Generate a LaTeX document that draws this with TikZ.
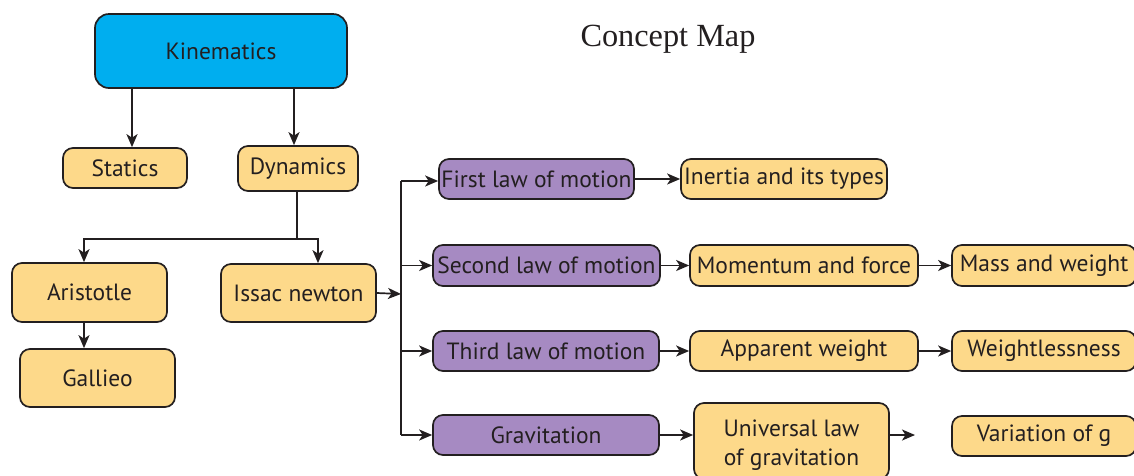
\documentclass[tikz,border=0pt]{standalone}
\usepackage{fontspec}
\setmainfont{PT Sans}
\newfontfamily\titlefont{Liberation Serif}
\usetikzlibrary{arrows.meta}
\definecolor{linec}{HTML}{231F20}
\definecolor{yel}{HTML}{FDD98A}
\definecolor{pur}{HTML}{A68AC2}
\definecolor{cyanbox}{HTML}{00AEEF}
\begin{document}
\begin{tikzpicture}[x=1pt,y=-1pt,
  box/.style={draw=linec, line width=1.7pt, rounded corners=10pt, inner sep=0pt,
    align=center, text=linec, font=\fontsize{23.5}{29}\selectfont},
  ybox/.style={box, fill=yel},
  pbox/.style={box, fill=pur},
  arr/.style={-{Stealth[length=13pt,width=11pt,inset=3.5pt]}, line width=1.7pt, draw=linec},
  ln/.style={line width=1.7pt, draw=linec}]
\useasboundingbox (0,0) rectangle (1134,475);
\fill[white] (0,0) rectangle (1134,475);

\node[font=\titlefont\fontsize{32.3}{36}\selectfont, text=linec] (title) at (668,39) {Concept Map};

\node[box, fill=cyanbox, minimum width=252pt, minimum height=74pt, rounded corners=14pt] (kin) at (221,51) {Kinematics};
\node[ybox, minimum width=124pt, minimum height=40pt] (stat) at (125,168) {Statics};
\node[ybox, minimum width=120pt, minimum height=45pt] (dyn) at (298,168.5) {Dynamics};
\node[ybox, minimum width=155pt, minimum height=59pt] (arist) at (89.5,292.5) {Aristotle};
\node[ybox, minimum width=155pt, minimum height=58pt] (gal) at (97.5,378) {Gallieo};
\node[ybox, minimum width=155pt, minimum height=58pt] (issac) at (298.5,293) {Issac newton};

\node[pbox, minimum width=195pt, minimum height=40pt] (first) at (536.5,179) {First law of motion};
\node[pbox, minimum width=227pt, minimum height=41pt] (second) at (546.5,265.5) {Second law of motion};
\node[pbox, minimum width=226pt, minimum height=40pt] (third) at (546,351) {Third law of motion};
\node[pbox, minimum width=226pt, minimum height=40pt] (grav) at (546,435) {Gravitation};

\node[ybox, minimum width=206pt, minimum height=40pt] (inert) at (784,179) {Inertia and its types};
\node[ybox, minimum width=228pt, minimum height=41pt] (mom) at (804,265.5) {Momentum and force};
\node[ybox, minimum width=184pt, minimum height=41pt] (mass) at (1044,265.5) {Mass and weight};
\node[ybox, minimum width=228pt, minimum height=40pt] (app) at (804,351) {Apparent weight};
\node[ybox, minimum width=184pt, minimum height=40pt] (wl) at (1044,351) {Weightlessness};
\node[ybox, minimum width=195pt, minimum height=76pt] (univ) at (791.5,441) {\rule{0pt}{25pt}Universal law\\of gravitation};
\node[ybox, minimum width=184pt, minimum height=40pt] (var) at (1044,436) {Variation of g};

\coordinate (split) at (297,239);
\coordinate (bus) at (401,294);
\coordinate (uend) at (915,435);

\draw[arr] ([xshift=7pt]stat.north |- kin.south) -- ([xshift=7pt]stat.north);
\draw[arr] ([xshift=-4pt]dyn.north |- kin.south) -- ([xshift=-4pt]dyn.north);
\draw[ln] (dyn.south -| split) -- (split);
\draw[arr] (split) -| ([xshift=-5.5pt]arist.north);
\draw[arr] (split) -| ([xshift=19.5pt]issac.north);
\draw[arr] ([xshift=-5.5pt]arist.south) -- ([xshift=-5.5pt]gal.north -| arist.south);
\draw[arr] (issac.east) -- (bus);
\draw[ln] ([yshift=-2pt]first.west -| bus) -- (grav.west -| bus);
\draw[arr] ([yshift=-2pt]first.west -| bus) -- ([yshift=-2pt]first.west);
\draw[arr] (second.west -| bus) -- (second.west);
\draw[arr] (third.west -| bus) -- (third.west);
\draw[arr] (grav.west -| bus) -- (grav.west);
\draw[arr] (first.east) -- (inert.west);
\draw[arr] (second.east) -- (mom.west);
\draw[arr] (mom.east) -- (mass.west);
\draw[arr] (third.east) -- (app.west);
\draw[arr] (app.east) -- (wl.west);
\draw[arr] (grav.east) -- (grav.east -| univ.west);
\draw[arr] ([yshift=6pt]univ.east) -- (uend);
\end{tikzpicture}
\end{document}
